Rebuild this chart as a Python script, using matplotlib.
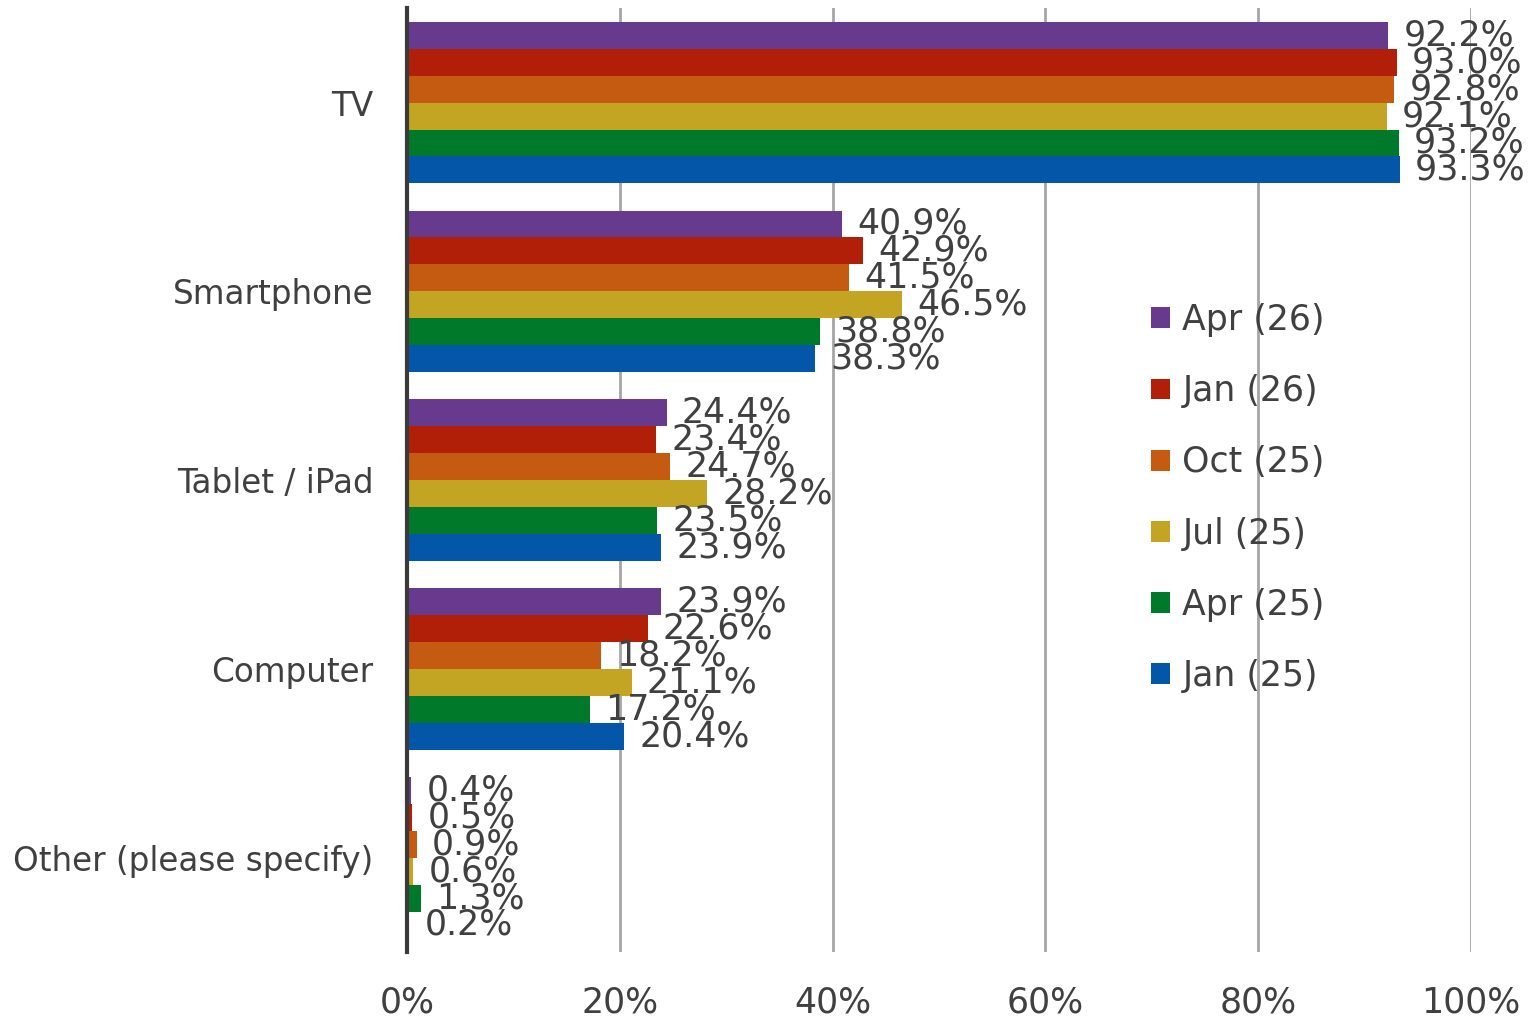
import numpy as np
import matplotlib
matplotlib.use("Agg")
import matplotlib.pyplot as plt
from matplotlib.patches import Patch

plt.rcParams['font.family'] = ['DejaVu Sans']

categories = ['TV', 'Smartphone', 'Tablet / iPad', 'Computer', 'Other (please specify)']
series_names = ['Apr (26)', 'Jan (26)', 'Oct (25)', 'Jul (25)', 'Apr (25)', 'Jan (25)']
colors = ['#673A8E', '#B21F08', '#C55A11', '#C4A523', '#007A2A', '#0457A8']

apr26 = [92.2, 40.9, 24.4, 23.9, 0.4]
jan26 = [93.0, 42.9, 23.4, 22.6, 0.5]
oct25 = [92.8, 41.5, 24.7, 18.2, 0.9]
jul25 = [92.1, 46.5, 28.2, 21.1, 0.6]
apr25 = [93.2, 38.8, 23.5, 17.2, 1.3]
jan25 = [93.3, 38.3, 23.9, 20.4, 0.2]
series = [apr26, jan26, oct25, jul25, apr25, jan25]

text_col = '#404040'
fs = 25

fig = plt.figure(figsize=(15.39, 10.24), dpi=100)
ax = fig.add_axes([0.2645, 0.0703, 0.6913, 0.9217])

y = np.arange(len(categories))
h = 0.1427
for i, vals in enumerate(series):
    pos = y + (i - 2.5) * h
    bars = ax.barh(pos, vals, height=h, color=colors[i], zorder=2)
    for b, v in zip(bars, vals):
        ax.annotate(f'{v:.1f}%', (b.get_width(), b.get_y() + h / 2),
                    xytext=(11, 0), textcoords='offset points',
                    ha='left', va='center', fontsize=fs, color=text_col, zorder=3)

ax.set_xlim(0, 100)
ax.set_ylim(4.5, -0.5)
ax.set_yticks(y)
ax.set_yticklabels(categories)
ax.set_xticks(range(0, 101, 20))
ax.set_xticklabels([f'{t}%' for t in range(0, 101, 20)])
ax.tick_params(axis='both', length=0, labelcolor=text_col)
ax.tick_params(axis='x', pad=24, labelsize=fs)
ax.tick_params(axis='y', pad=24, labelsize=23.5)
ax.xaxis.grid(True, color='#A6A6A6', linewidth=2, zorder=0)
ax.set_axisbelow(True)
for s in ['top', 'right', 'bottom']:
    ax.spines[s].set_visible(False)
ax.spines['left'].set_color('#3A3A3A')
ax.spines['left'].set_linewidth(3)
ax.spines['left'].set_zorder(4)

handles = [Patch(facecolor=c) for c in colors]
fig.legend(handles, series_names, loc='upper left', bbox_to_anchor=(0.748, 0.704),
           frameon=False, fontsize=fs, labelcolor=text_col,
           handlelength=0.55, handleheight=0.55, handletextpad=0.35,
           labelspacing=1.07, borderpad=0, borderaxespad=0)

fig.savefig('out.png', dpi=100)
